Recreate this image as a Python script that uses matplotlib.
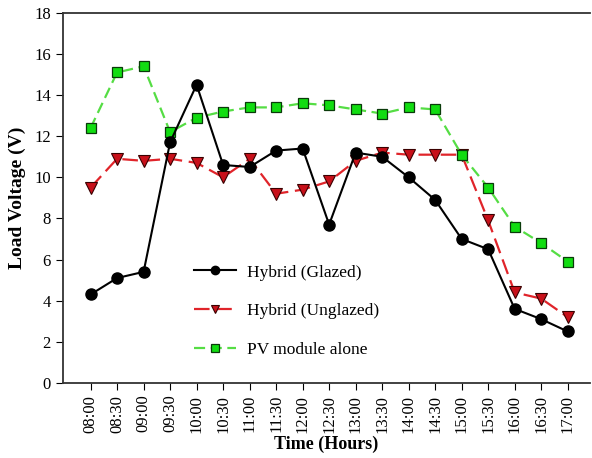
import matplotlib.pyplot as plt

plt.rcParams['font.family'] = ['Liberation Serif', 'DejaVu Serif']

times = ['08:00', '08:30', '09:00', '09:30', '10:00', '10:30', '11:00', '11:30', '12:00', '12:30',
         '13:00', '13:30', '14:00', '14:30', '15:00', '15:30', '16:00', '16:30', '17:00']
glazed = [4.3, 5.1, 5.4, 11.7, 14.5, 10.6, 10.5, 11.3, 11.4, 7.7,
          11.2, 11.0, 10.0, 8.9, 7.0, 6.5, 3.6, 3.1, 2.5]
unglazed = [9.5, 10.9, 10.8, 10.9, 10.7, 10.0, 10.9, 9.2, 9.4, 9.8,
            10.8, 11.2, 11.1, 11.1, 11.1, 7.9, 4.4, 4.1, 3.2]
pv_alone = [12.4, 15.1, 15.4, 12.2, 12.9, 13.2, 13.4, 13.4, 13.6, 13.5,
            13.3, 13.1, 13.4, 13.3, 11.1, 9.5, 7.6, 6.8, 5.9]

x = range(len(times))

fig = plt.figure(figsize=(5.92, 4.58), dpi=100)
ax = fig.add_axes([0.106, 0.164, 0.891, 0.808])

ax.plot(x, glazed, color='black', lw=1.5, marker='o', ms=8,
        mfc='black', mec='black', label='Hybrid (Glazed)', zorder=3)
ax.plot(x, unglazed, color='#e0242a', lw=1.6, dashes=(7, 3), marker='v', ms=8,
        mfc='#c8101a', mec='#3a0000', mew=0.8, label='Hybrid (Unglazed)', zorder=2)
ax.plot(x, pv_alone, color='#55dd44', lw=1.6, dashes=(5, 2.5), marker='s', ms=7,
        mfc='#11dd11', mec='#0a3a0a', mew=0.9, label='PV module alone', zorder=2)

ax.set_xlim(-1.05, 18.85)
ax.set_ylim(0, 18)
ax.set_yticks(range(0, 19, 2))
ax.set_xticks(list(x))
ax.set_xticklabels(times, rotation=90, fontsize=12)
ax.tick_params(axis='y', labelsize=12, direction='out', length=5)
ax.tick_params(axis='x', direction='out', length=5)
ax.spines['right'].set_visible(False)
for s in ['left', 'top', 'bottom']:
    ax.spines[s].set_linewidth(1.3)
    ax.spines[s].set_color('#333333')

ax.set_xlabel('Time (Hours)', fontsize=13, fontweight='bold', labelpad=2)
ax.set_ylabel('Load Voltage (V)', fontsize=14, fontweight='bold', labelpad=6)

ax.legend(loc='lower left', bbox_to_anchor=(0.22, 0.025), frameon=False, fontsize=12.5,
          handlelength=2.4, labelspacing=1.3, handletextpad=0.65, markerscale=0.75)

fig.savefig('out.png', dpi=100)
